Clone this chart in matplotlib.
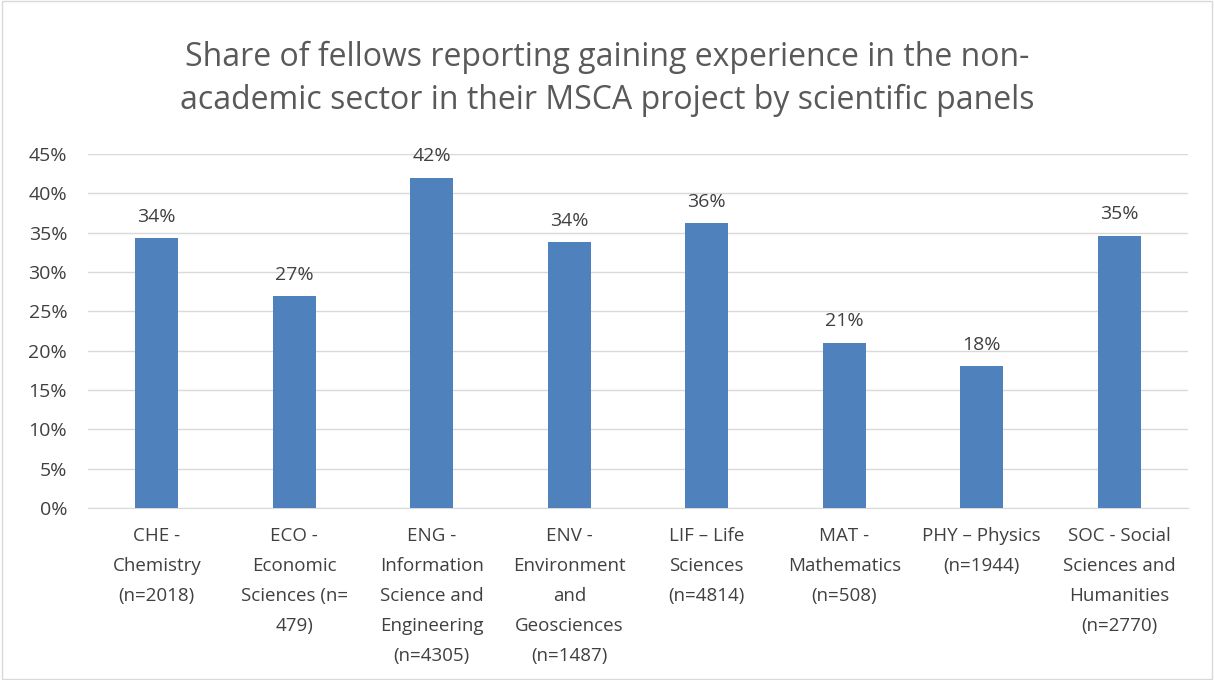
import matplotlib.pyplot as plt
import numpy as np
from matplotlib.ticker import PercentFormatter

plt.rcParams['font.family'] = ['Open Sans', 'DejaVu Sans']

panels = ['CHE -\nChemistry\n(n=2018)', 'ECO -\nEconomic\nSciences (n=\n479)',
          'ENG -\nInformation\nScience and\nEngineering\n(n=4305)',
          'ENV -\nEnvironment\nand\nGeosciences\n(n=1487)',
          'LIF \u2013 Life\nSciences\n(n=4814)', 'MAT -\nMathematics\n(n=508)',
          'PHY \u2013 Physics\n(n=1944)', 'SOC - Social\nSciences and\nHumanities\n(n=2770)']
share = [34.3, 26.9, 42.0, 33.8, 36.2, 21.0, 18.0, 34.6]
labels = ['34%', '27%', '42%', '34%', '36%', '21%', '18%', '35%']

fig = plt.figure(figsize=(12.14, 6.8), dpi=100)
fig.patches.append(plt.Rectangle((0.002, 0.002), 0.996, 0.996, transform=fig.transFigure,
                                 fill=False, edgecolor='#d9d9d9', linewidth=1))
ax = fig.add_axes([88/1214, 1 - 508/680, 1100/1214, 354/680])

x = np.arange(len(panels))
bars = ax.bar(x, share, width=0.31, color='#4f81bd', zorder=3)
for b, t in zip(bars, labels):
    ax.text(b.get_x() + b.get_width()/2, b.get_height() + 1.6, t,
            ha='center', va='bottom', fontsize=14, color='#404040')

ax.set_xlim(-0.5, 7.5)
ax.set_ylim(0, 45)
ax.set_yticks(np.arange(0, 46, 5))
ax.yaxis.set_major_formatter(PercentFormatter(decimals=0))
ax.set_xticks(x)
ax.set_xticklabels(panels, fontsize=13.5, color='#404040', linespacing=1.85)
ax.tick_params(axis='y', labelsize=14, labelcolor='#404040', length=0, pad=15)
ax.tick_params(axis='x', length=0, pad=14)
ax.grid(axis='y', color='#d9d9d9', linewidth=1, zorder=0)
for s in ['top', 'right', 'left']:
    ax.spines[s].set_visible(False)
ax.spines['bottom'].set_color('#d9d9d9')

fig.text(0.5, 0.94, 'Share of fellows reporting gaining experience in the non-\n'
         'academic sector in their MSCA project by scientific panels',
         ha='center', va='top', fontsize=23, color='#595959', linespacing=1.4)

fig.savefig('out.png', dpi=100)
